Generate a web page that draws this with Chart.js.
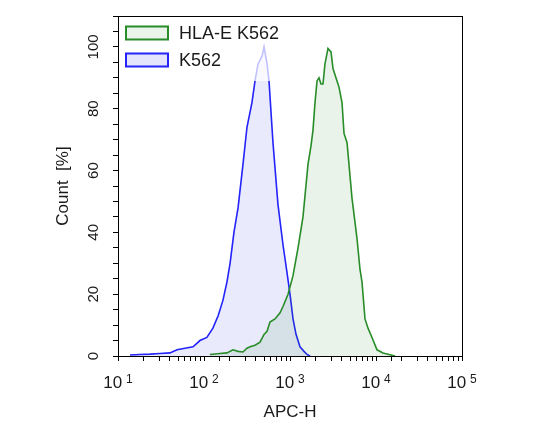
<!DOCTYPE html>
<html>
<head>
<meta charset="utf-8">
<script src="https://cdn.jsdelivr.net/npm/chart.js@4.4.1/dist/chart.umd.min.js"></script>
<style>
  html, body { margin: 0; padding: 0; background: #fff; }
</style>
</head>
<body>
<canvas id="histChart" width="545" height="447"></canvas>
<script>
// series names (legend order)
var seriesNames = ['HLA-E K562', 'K562'];

// HLA-E K562 (green) : APC-H value / count %
var hlaX = [117, 153, 185, 217, 249, 284, 316, 343, 392, 448, 499, 541, 585, 669, 766, 829, 949, 1084, 1240, 1416,
            1619, 1754, 1850, 1954, 2061, 2174, 2293, 2419, 2551, 2766, 2998, 3162, 3337, 3520, 3713, 4024, 4249,
            4606, 5262, 6013, 6516, 6871, 7448, 8072, 8982, 10270, 12060, 14540, 16630];
var hlaY = [0.5, 0.8, 1, 2, 1.5, 1.3, 2.5, 3, 3.5, 4.5, 7, 8, 11, 12, 14, 16, 20, 26, 35, 45,
            62, 68, 73, 82, 89, 90, 88, 88, 94.5, 99.5, 98.4, 93, 91, 89, 87, 82, 72,
            69, 51, 38, 28, 24, 12, 9, 6, 2, 1, 0.4, 0];

// K562 (blue)
var k562X = [13.8, 18, 23.5, 30.8, 40.2, 48.6, 60.1, 74.5, 89.8, 108, 127, 146, 166, 185, 201, 223, 249, 284,
             316, 361, 392, 425, 473, 499, 541, 570, 634, 725, 829, 923, 1000, 1084, 1175, 1307, 1455, 1577, 1710];
var k562Y = [0.3, 0.5, 0.6, 0.8, 1, 2, 2.5, 3, 5, 6, 9, 13, 18, 24, 30, 40, 48, 62,
             74, 82, 89, 94.5, 97, 100, 94.5, 89, 69, 49, 36, 27, 20, 12, 7, 3, 1.5, 0.5, 0];

// tick labels: x decades as base + exponent, y every 20
var xTickValues = [10, 100, 1000, 10000, 100000];
var xTickExponents = ['1', '2', '3', '4', '5'];
var yTickLabels = [0, 20, 40, 60, 80, 100];

var lineColors = ['rgb(40,140,40)', 'rgb(35,35,250)'];
var fillColors = ['rgba(40,140,40,0.10)', 'rgba(60,60,240,0.11)'];
var legendFills = ['rgb(234,244,234)', 'rgb(228,228,252)'];
var fontFamily = '"Liberation Sans", Arial, sans-serif';

function toPoints(xs, ys) {
    return xs.map(function (x, i) { return { x: x, y: ys[i] }; });
}

// frame round the plot, legend in its top-left corner, decade labels 10^n
var frameLegend = {
    id: 'frameLegend',
    afterDatasetsDraw: function (chart) {
        var a = chart.chartArea, c = chart.ctx;
        c.save();
        c.fillStyle = 'rgba(255,255,255,0.72)';
        c.fillRect(a.left + 1, a.top + 1, 171, 64);
        c.font = '18px ' + fontFamily;
        c.textBaseline = 'middle';
        chart.data.datasets.forEach(function (ds, i) {
            var y = a.top + 17 + i * 27;
            c.fillStyle = legendFills[i];
            c.fillRect(a.left + 8, y - 6.5, 42, 13);
            c.strokeStyle = ds.borderColor;
            c.lineWidth = 2;
            c.strokeRect(a.left + 8, y - 6.5, 42, 13);
            c.fillStyle = '#1a1a1a';
            c.fillText(ds.label, a.left + 61, y + 1);
        });
        c.strokeStyle = '#000';
        c.lineWidth = 1;
        c.strokeRect(a.left + 0.5, a.top + 0.5, a.right - a.left, a.bottom - a.top);
        c.restore();
    },
    afterDraw: function (chart) {
        var c = chart.ctx, sx = chart.scales.x;
        c.save();
        c.fillStyle = '#1a1a1a';
        c.textBaseline = 'alphabetic';
        c.textAlign = 'left';
        xTickValues.forEach(function (v, i) {
            var px = sx.getPixelForValue(v);
            c.font = '17px ' + fontFamily;
            var wBase = c.measureText('10').width;
            c.font = '12px ' + fontFamily;
            var wExp = c.measureText(xTickExponents[i]).width;
            var gap = 4;
            var x0 = px - (wBase + gap + wExp) / 2;
            c.font = '17px ' + fontFamily;
            c.fillText('10', x0, sx.top + 32);
            c.font = '12px ' + fontFamily;
            c.fillText(xTickExponents[i], x0 + wBase + gap, sx.top + 27);
        });
        c.restore();
    }
};

var ctx = document.getElementById('histChart').getContext('2d');
var myChart = new Chart(ctx, {
    type: 'line',
    data: {
        datasets: [{
            label: seriesNames[0],
            data: toPoints(hlaX, hlaY),
            borderColor: lineColors[0],
            backgroundColor: fillColors[0],
            fill: 'origin',
            borderWidth: 1.6,
            pointRadius: 0,
            tension: 0
        }, {
            label: seriesNames[1],
            data: toPoints(k562X, k562Y),
            borderColor: lineColors[1],
            backgroundColor: fillColors[1],
            fill: 'origin',
            borderWidth: 1.6,
            pointRadius: 0,
            tension: 0
        }]
    },
    options: {
        responsive: false,
        animation: false,
        devicePixelRatio: 1,
        layout: { padding: { left: 0, top: 13, right: 83, bottom: 0 } },
        plugins: {
            legend: { display: false },
            tooltip: { enabled: false }
        },
        scales: {
            x: {
                type: 'logarithmic',
                min: 10,
                max: 100000,
                border: { display: true, color: '#000', width: 1 },
                grid: { display: true, drawOnChartArea: false, drawTicks: true, tickLength: 5, color: '#000' },
                ticks: {
                    autoSkip: false,
                    maxRotation: 0,
                    callback: function () { return ''; }
                },
                title: {
                    display: true,
                    text: 'APC-H',
                    color: '#1a1a1a',
                    font: { family: fontFamily, size: 17 },
                    padding: { top: 0, bottom: 24 }
                },
                afterFit: function (scale) { scale.height = 91; }
            },
            y: {
                min: 0,
                max: 110,
                border: { display: true, color: '#000', width: 1 },
                grid: { display: true, drawOnChartArea: false, drawTicks: true, tickLength: 5, color: '#000' },
                ticks: {
                    stepSize: 5,
                    autoSkip: false,
                    minRotation: 90,
                    maxRotation: 90,
                    crossAlign: 'center',
                    padding: 7,
                    color: '#1a1a1a',
                    font: { family: fontFamily, size: 15 },
                    callback: function (value) {
                        return yTickLabels.indexOf(value) >= 0 ? String(value) : '';
                    }
                },
                title: {
                    display: true,
                    text: 'Count  [%]',
                    color: '#1a1a1a',
                    font: { family: fontFamily, size: 17 },
                    padding: { top: 53, bottom: 0 }
                },
                afterFit: function (scale) { scale.width = 118; }
            }
        }
    },
    plugins: [frameLegend]
});
</script>
</body>
</html>
